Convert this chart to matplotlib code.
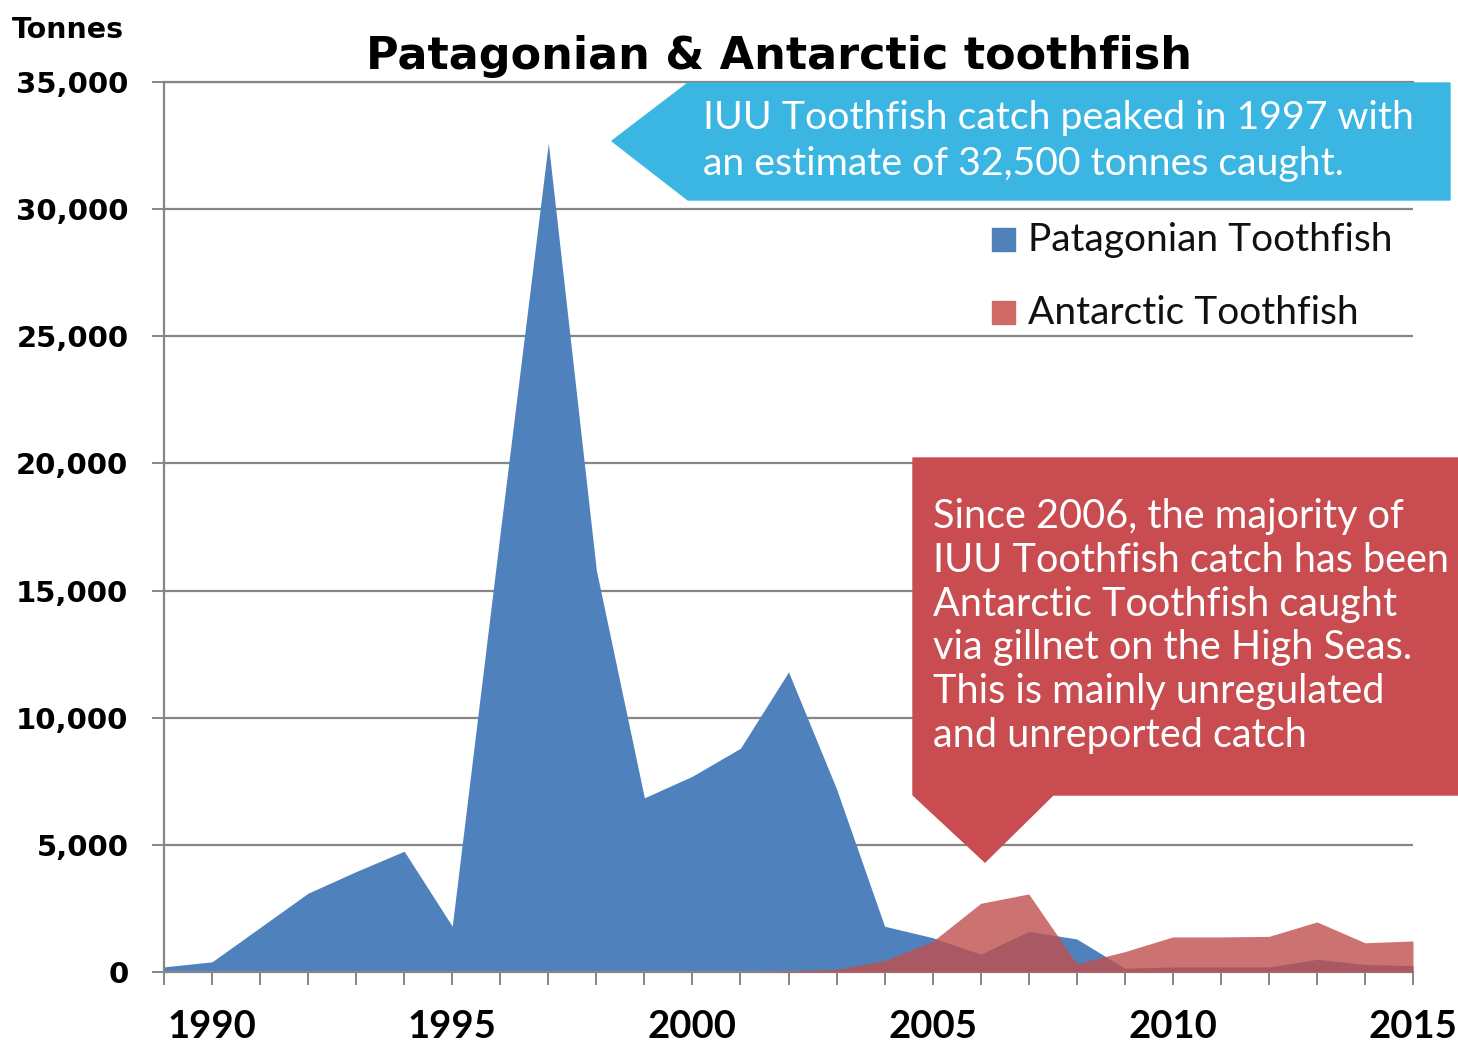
import matplotlib
matplotlib.use("Agg")
import matplotlib.pyplot as plt
from matplotlib.patches import Polygon, Rectangle

# data (tonnes per year)
years = list(range(1989, 2016))
patagonian = [200, 400, 1750, 3100, 3950, 4750, 1800, 17300, 32600, 15800,
              6850, 7700, 8800, 11800, 7200, 1800, 1350, 700, 1600, 1300,
              150, 200, 200, 200, 500, 300, 250]
antarctic = [0, 0, 0, 0, 0, 0, 0, 0, 0, 0,
             0, 0, 0, 30, 100, 450, 1200, 2700, 3070, 330,
             800, 1380, 1380, 1400, 1970, 1150, 1220]

y_ticks = [0, 5000, 10000, 15000, 20000, 25000, 30000, 35000]
x_label_years = [1990, 1995, 2000, 2005, 2010, 2015]

series_names = ["Patagonian Toothfish", "Antarctic Toothfish"]
title = "Patagonian & Antarctic toothfish"
blue_note = "IUU Toothfish catch peaked in 1997 with\nan estimate of 32,500 tonnes caught."
red_note = ("Since 2006, the majority of\nIUU Toothfish catch has been\n"
            "Antarctic Toothfish caught\nvia gillnet on the High Seas.\n"
            "This is mainly unregulated\nand unreported catch")

BLUE = "#4F81BD"
RED = "#C0504D"
GRID = "#868686"
W, H = 1458, 1044


def px(x, y):
    # pixel position (from top-left) -> figure fraction
    return (x / W, 1 - y / H)


fig = plt.figure(figsize=(W / 100, H / 100), dpi=100)
ax = fig.add_axes([164 / W, 72 / H, (1413 - 164) / W, (972 - 82) / H])

ax.fill_between(years, patagonian, color=BLUE, linewidth=0, zorder=2)
ax.fill_between(years, antarctic, color=RED, alpha=0.8, linewidth=0, zorder=3)

ax.set_xlim(1989, 2015)
ax.set_ylim(0, 35000)
ax.set_axisbelow(True)
ax.yaxis.grid(True, color=GRID, linewidth=1.6)
ax.xaxis.grid(False)

ax.set_yticks(y_ticks)
ax.set_yticklabels([f"{v:,}" for v in y_ticks], fontsize=21, fontweight="bold",
                   family="DejaVu Sans")
ax.set_xticks(years)
ax.set_xticklabels([str(y) if y in x_label_years else "" for y in years],
                   fontsize=27.5, fontweight="bold", family="Lato")
ax.tick_params(axis="y", length=8.6, width=1.4, color=GRID, pad=17)
ax.tick_params(axis="x", length=9.5, width=1.4, color=GRID, pad=18)

ax.spines["right"].set_visible(False)
for side in ["left", "bottom", "top"]:
    ax.spines[side].set_color(GRID)
    ax.spines[side].set_linewidth(1.6)

fig.text(*px(12, 30), "Tonnes", fontsize=20.5, fontweight="bold",
         ha="left", va="center")
fig.text(*px(779, 57), title, fontsize=32, fontweight="bold",
         ha="center", va="center")

# legend, drawn by hand to sit like the original
for i, (name, col) in enumerate(zip(series_names, [BLUE, "#D06A66"])):
    yc = 240 + i * 73
    x0, y0 = px(992, yc + 11)
    fig.patches.append(Rectangle((x0, y0), 23 / W, 23 / H, color=col,
                                 transform=fig.transFigure, figure=fig))
    fig.text(*px(1028, yc), name, fontsize=28, family="Lato",
             ha="left", va="center", color="#111111")

# blue callout
blue_box = [px(612, 141), px(688, 83), px(1450, 83), px(1450, 200), px(688, 200)]
fig.patches.append(Polygon(blue_box, closed=True, color="#3BB6E2",
                           transform=fig.transFigure, figure=fig))
fig.text(*px(703, 141), blue_note, fontsize=28.3, family="Lato", color="white",
         ha="left", va="center", linespacing=1.36)

# red callout
red_box = [px(913, 458), px(1458, 458), px(1458, 795), px(1053, 795),
           px(985, 862), px(913, 795)]
fig.patches.append(Polygon(red_box, closed=True, color="#C94C50",
                           transform=fig.transFigure, figure=fig))
fig.text(*px(933, 626), red_note, fontsize=28.5, family="Lato", color="white",
         ha="left", va="center", linespacing=1.23)

fig.savefig("out.png", dpi=100)
